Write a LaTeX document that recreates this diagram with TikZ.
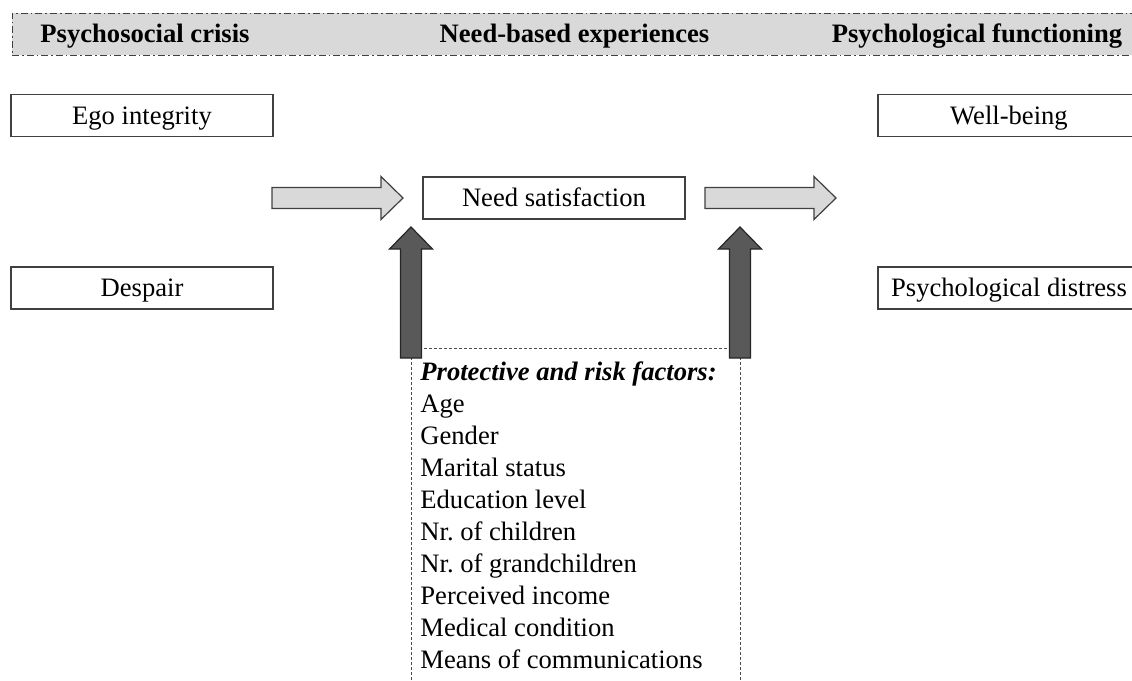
\documentclass[tikz,border=0pt]{standalone}
\usepackage{fontspec}
\setmainfont{Liberation Serif}
\usetikzlibrary{positioning,calc}
\definecolor{bandgray}{HTML}{D9D9D9}
\definecolor{darkfill}{HTML}{595959}
\definecolor{linegray}{HTML}{404040}

\tikzset{
  box/.style={draw=linegray, line width=0.7pt, minimum width=131pt,
    minimum height=21pt, inner sep=0pt, text height=8.8pt, text depth=0pt},
  head/.style={font=\bfseries\fontsize{13.3}{16}\selectfont,
    text height=8.8pt, text depth=0pt},
  band/.style={draw=linegray, fill=bandgray, line width=0.5pt,
    dash pattern=on 3.5pt off 1.5pt on 0.8pt off 1.5pt},
  lightarrow/.style={draw=linegray, fill=bandgray, line width=0.6pt},
  darkarrow/.style={draw=black!85, fill=darkfill, line width=0.6pt},
  factorline/.style={draw=black!70, line width=0.4pt,
    dash pattern=on 1.5pt off 1pt}
}

% block arrow: style, start point, rotation
\newcommand{\blockarr}[3]{%
  \draw[#1, shift={(#2)}, rotate=#3] (0,-10.5) -- (109,-10.5) -- (109,-21.5)
    -- (131,0) -- (109,21.5) -- (109,10.5) -- (0,10.5) -- cycle;}

\begin{document}
\begin{tikzpicture}[x=0.5pt, y=-0.5pt,
every node/.style={font=\fontsize{13.3}{16}\selectfont}]
\useasboundingbox (0,0) rectangle (1132,681);

% heading band
\node (band) at (578.5,34) [band, minimum width=566.5pt, minimum height=21pt] {};
\node (hcrisis) at (145,34) [head] {Psychosocial crisis};
\node (hneeds) at (574.5,34) [head] {Need-based experiences};
\node (hfunc) at (977,34) [head] {Psychological functioning};

\node (ego) at (142,115.5) [box] {Ego integrity};
\node (despair) at (142,288) [box] {Despair};
\node (needsat) at (554,198) [box] {Need satisfaction};
\node (wellbeing) at (1009,115.5) [box] {Well-being};
\node (distress) at (1009,288) [box] {Psychological distress};

% factors
\coordinate (fl) at (411,348);
\coordinate (fr) at (740,348);
\draw[factorline] (411,700) -- (fl) -- (fr) -- (740,700);
\node (ftitle) at (420,380) [anchor=base west, inner sep=0pt]
  {\textbf{\textit{Protective and risk factors:}}};
\foreach \t [count=\i] in {Age, Gender, Marital status, Education level,
  Nr.\ of children, Nr.\ of grandchildren, Perceived income,
  Medical condition, Means of communications}
  \node (f\i) at (420,{412+32*(\i-1)}) [anchor=base west, inner sep=0pt] {\t};

% arrows
\coordinate (arrin) at (272,198);
\coordinate (arrout) at (705,198);
\coordinate (upl) at (411,358);
\coordinate (upr) at (740,358);
\blockarr{lightarrow}{arrin}{0}
\blockarr{lightarrow}{arrout}{0}
\blockarr{darkarrow}{upl}{90}
\blockarr{darkarrow}{upr}{90}

\end{tikzpicture}
\end{document}
